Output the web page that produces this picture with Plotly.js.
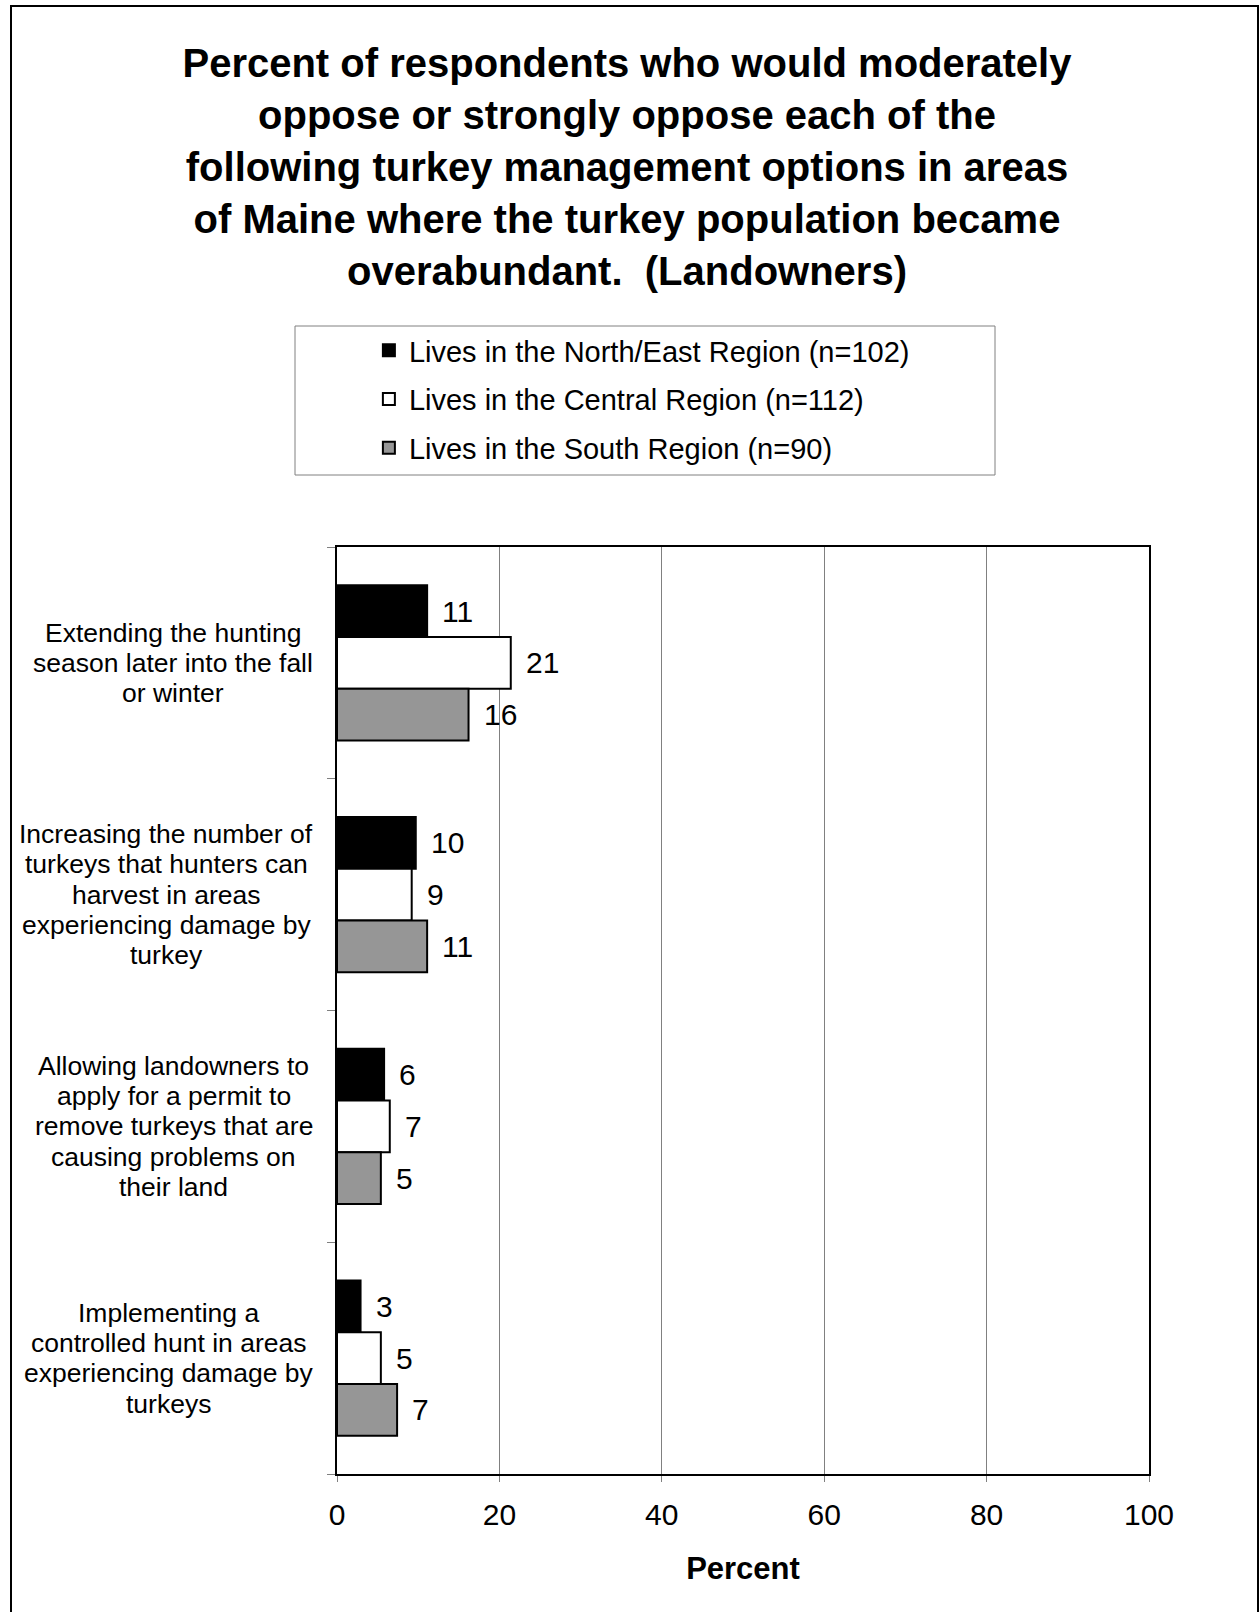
<!DOCTYPE html>
<html>
<head>
<meta charset="utf-8">
<script src="https://cdn.plot.ly/plotly-3.0.1.min.js"></script>
<style>
  html, body { margin: 0; padding: 0; background: #fff; overflow: hidden; }
  #chart { width: 1259px; height: 1612px; }
  #frame { position: absolute; left: 10px; top: 5px; width: 1245px; height: 1640px;
           border: 2px solid #000; pointer-events: none; }
</style>
</head>
<body>
<div id="chart"></div>
<div id="frame"></div>
<script>
// ---- data ----
const categories = [
  "Extending the hunting<br>season later into the fall<br>or winter",
  "Increasing the number of<br>turkeys that hunters can<br>harvest in areas<br>experiencing damage by<br>turkey",
  "Allowing landowners to<br>apply for a permit to<br>remove turkeys that are<br>causing problems on<br>their land",
  "Implementing a<br>controlled hunt in areas<br>experiencing damage by<br>turkeys"
];
const seriesNames = [
  "Lives in the North/East Region (n=102)",
  "Lives in the Central Region (n=112)",
  "Lives in the South Region (n=90)"
];
const northEast = [11.1, 9.7, 5.8, 2.9];
const central   = [21.4, 9.2, 6.5, 5.4];
const south     = [16.2, 11.1, 5.4, 7.4];
const xTicks = [0, 20, 40, 60, 80, 100];

// ---- styles ----
const FONT = "Liberation Sans, Arial, Helvetica, sans-serif";
const colors = ["#000000", "#ffffff", "#969696"];
const allSeries = [northEast, central, south];
const bargap = 0.33;

const traces = allSeries.map((vals, i) => ({
  type: "bar",
  orientation: "h",
  name: seriesNames[i],
  x: vals,
  y: categories.map((c, k) => k),
  marker: { color: colors[i], line: { color: "#000", width: 2 } },
  legendgroup: "g" + i,
  hoverinfo: "x+name"
}));

const annotations = [];
// value labels
const groupW = 1 - bargap;
allSeries.forEach((vals, i) => {
  const off = -groupW / 2 + (i + 0.5) * groupW / 3;
  vals.forEach((v, k) => {
    annotations.push({
      x: v, y: k + off, xref: "x", yref: "y",
      text: String(Math.round(v)),
      showarrow: false, xanchor: "left", yanchor: "middle", xshift: 13,
      font: { family: FONT, size: 30, color: "#000" }
    });
  });
});

// category labels (centered lines, block right edge at fixed px)
const plotLeft = 337, plotWidth = 812, labelRight = 313, labelSize = 26.5, lineStep = 30.3;
const cv = document.createElement("canvas").getContext("2d");
cv.font = labelSize + "px 'Liberation Sans', Arial, sans-serif";
categories.forEach((c, k) => {
  const lines = c.split("<br>");
  const maxW = Math.max(...lines.map(l => cv.measureText(l).width));
  const centerPx = labelRight - maxW / 2;
  lines.forEach((ln, j) => {
    annotations.push({
      x: (centerPx - plotLeft) / plotWidth, xref: "paper",
      y: k, yref: "y",
      text: ln, showarrow: false, xanchor: "center", yanchor: "middle",
      yshift: -(j - (lines.length - 1) / 2) * lineStep,
      font: { family: FONT, size: labelSize, color: "#000" }
    });
  });
});

const layout = {
  width: 1259, height: 1612,
  margin: { l: 337, r: 110, t: 547, b: 138, pad: 0, autoexpand: false },
  paper_bgcolor: "#fff", plot_bgcolor: "#fff",
  font: { family: FONT, color: "#000" },
  title: {
    text: "Percent of respondents who would moderately<br>oppose or strongly oppose each of the<br>following turkey management options in areas<br>of Maine where the turkey population became<br>overabundant.  (Landowners)",
    font: { family: FONT, size: 40, weight: "bold", color: "#000" },
    xref: "container", x: 0.498, xanchor: "center",
    yref: "container", y: 0.9524, yanchor: "top"
  },
  barmode: "group",
  bargap: bargap,
  bargroupgap: 0,
  showlegend: true,
  legend: {
    xref: "container", yref: "container",
    x: 0.293, y: 0.7984, xanchor: "left", yanchor: "top",
    font: { family: FONT, size: 29, color: "#000" },
    bgcolor: "rgba(0,0,0,0)", borderwidth: 0,
    traceorder: "grouped", tracegroupgap: 8
  },
  xaxis: {
    range: [0, 100], tickvals: xTicks, ticktext: xTicks.map(String),
    showgrid: true, gridcolor: "#808080", gridwidth: 1,
    zeroline: false,
    showline: true, linecolor: "#000", linewidth: 2, mirror: true,
    ticks: "outside", ticklen: 6, tickcolor: "#808080", tickwidth: 1,
    ticklabelstandoff: 7,
    tickfont: { family: FONT, size: 30, color: "#000" },
    title: { text: "Percent", font: { family: FONT, size: 31, weight: "bold", color: "#000" }, standoff: 27 }
  },
  yaxis: {
    type: "linear",
    range: [3.5, -0.5], autorange: false,
    tickvals: [-0.5, 0.5, 1.5, 2.5, 3.5],
    showticklabels: false,
    showgrid: false, zeroline: false,
    showline: true, linecolor: "#000", linewidth: 2, mirror: true,
    ticks: "outside", ticklen: 8, tickcolor: "#808080", tickwidth: 1
  },
  annotations: annotations,
  shapes: [{
    type: "rect", xref: "paper", yref: "paper",
    x0: (295 - 337) / 812, x1: (995 - 337) / 812,
    y0: 1 + (547 - 475) / 927, y1: 1 + (547 - 326) / 927,
    line: { color: "#808080", width: 1 }, fillcolor: "rgba(0,0,0,0)"
  }]
};

Plotly.newPlot("chart", traces, layout, { displayModeBar: false, staticPlot: true });
</script>
</body>
</html>
